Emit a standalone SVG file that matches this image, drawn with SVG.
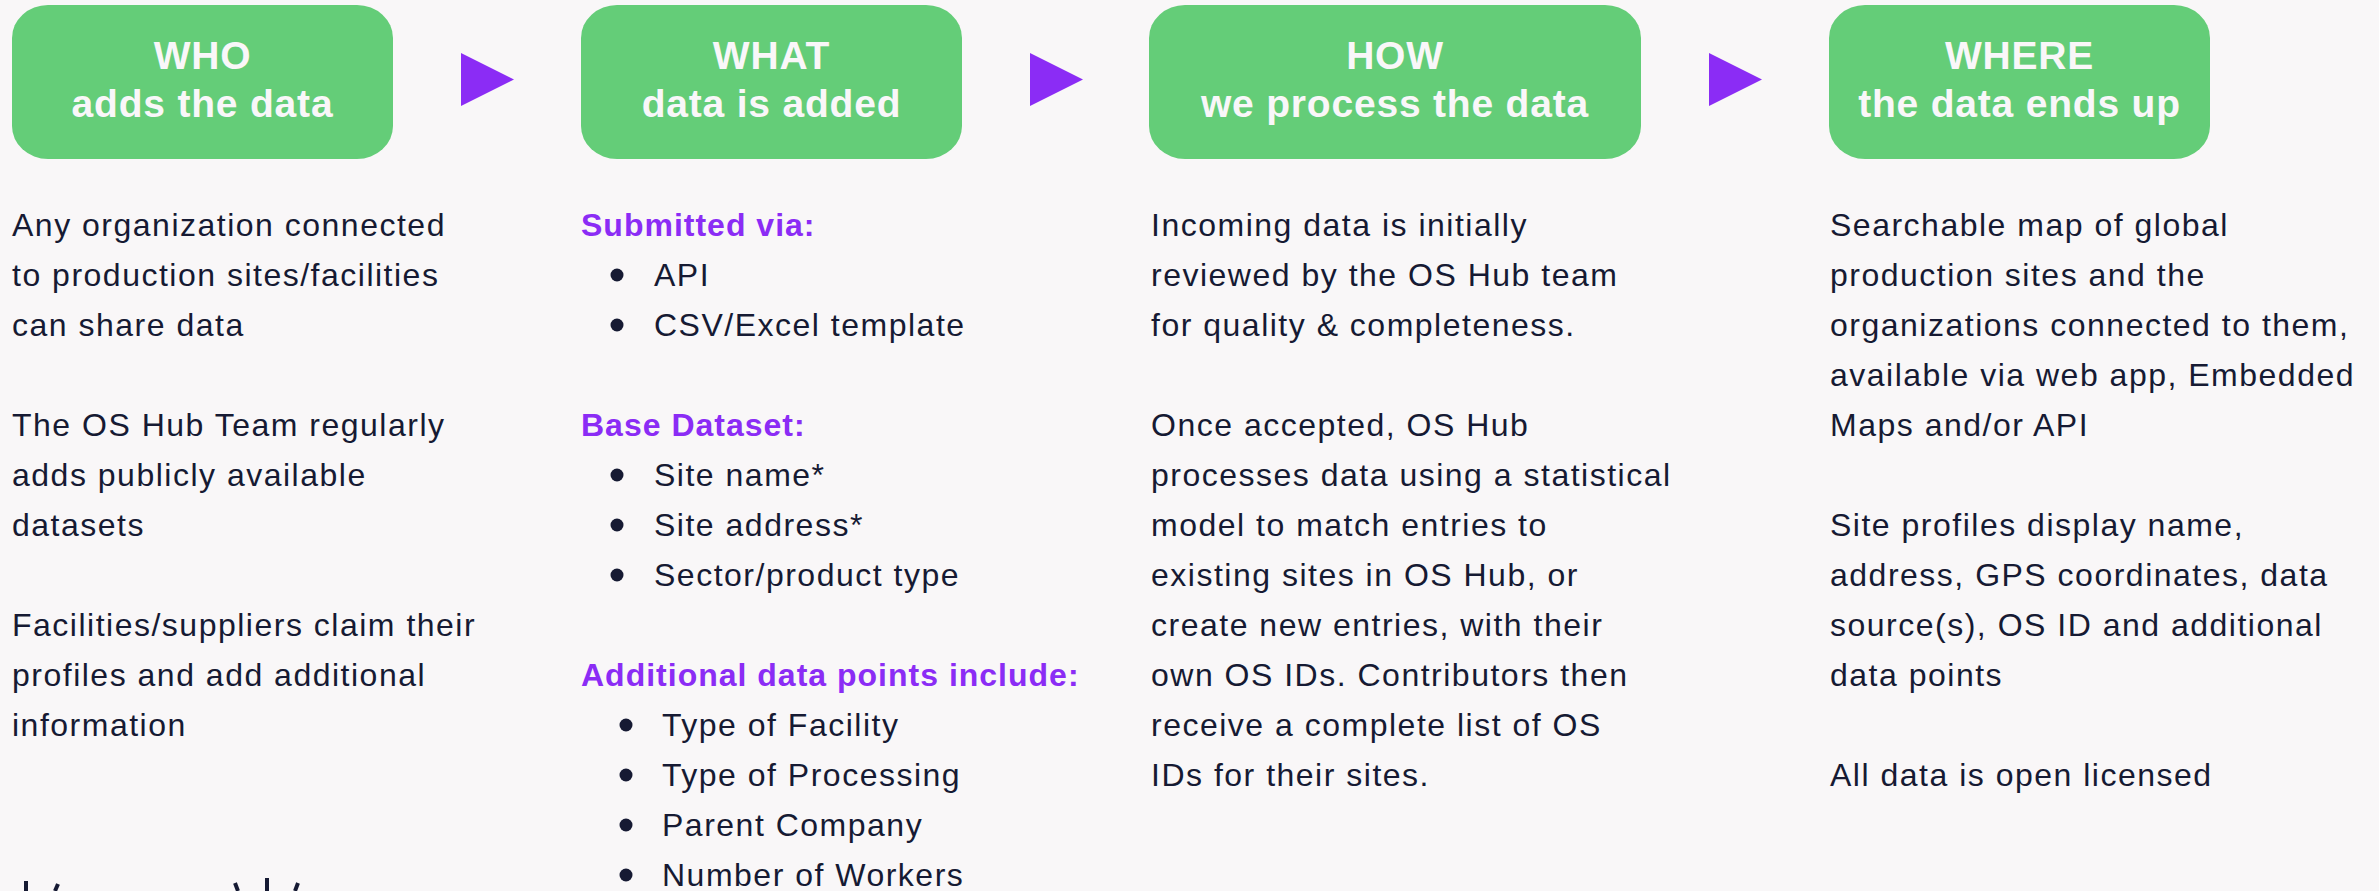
<svg xmlns="http://www.w3.org/2000/svg" width="2379" height="891" viewBox="0 0 2379 891">
<defs>
<style>
.box{fill:#64cd78}
.hd{font-family:"Liberation Sans",Arial,sans-serif;font-weight:700;font-size:39px;fill:#f9f7f9;text-anchor:middle;letter-spacing:0.8px}
.tx{font-family:"Liberation Sans",Arial,sans-serif;font-size:32px;fill:#161a33;letter-spacing:1.5px}
.sub{font-family:"Liberation Sans",Arial,sans-serif;font-weight:700;font-size:32px;fill:#8b2cf5;letter-spacing:1px}
.arr{fill:#8b2cf5}
.dot{fill:#161a33}
.frag{stroke:#161a33;stroke-width:4;fill:none}
</style>
</defs>
<rect width="2379" height="891" fill="#f9f7f8"/>
<g id="connectors">
<polygon class="arr" points="461,53 514,79.5 461,106"/>
<polygon class="arr" points="1030,53 1083,79.5 1030,106"/>
<polygon class="arr" points="1709,53 1762,79.5 1709,106"/>
</g>
<g id="who">
<rect class="box" x="12" y="5" width="381" height="154" rx="36" ry="33"/>
<text class="hd" x="202.5" y="69">WHO</text>
<text class="hd" x="202.5" y="117">adds the data</text>
<text class="tx" x="12" y="236">Any organization connected</text>
<text class="tx" x="12" y="286">to production sites/facilities</text>
<text class="tx" x="12" y="336">can share data</text>
<text class="tx" x="12" y="436">The OS Hub Team regularly</text>
<text class="tx" x="12" y="486">adds publicly available</text>
<text class="tx" x="12" y="536">datasets</text>
<text class="tx" x="12" y="636">Facilities/suppliers claim their</text>
<text class="tx" x="12" y="686">profiles and add additional</text>
<text class="tx" x="12" y="736">information</text>
</g>
<g id="what">
<rect class="box" x="581" y="5" width="381" height="154" rx="36" ry="33"/>
<text class="hd" x="771.5" y="69">WHAT</text>
<text class="hd" x="771.5" y="117">data is added</text>
<text class="sub" x="581" y="236">Submitted via:</text>
<circle class="dot" cx="617" cy="275" r="6.5"/>
<text class="tx" x="654" y="286">API</text>
<circle class="dot" cx="617" cy="325" r="6.5"/>
<text class="tx" x="654" y="336">CSV/Excel template</text>
<text class="sub" x="581" y="436">Base Dataset:</text>
<circle class="dot" cx="617" cy="475" r="6.5"/>
<text class="tx" x="654" y="486">Site name*</text>
<circle class="dot" cx="617" cy="525" r="6.5"/>
<text class="tx" x="654" y="536">Site address*</text>
<circle class="dot" cx="617" cy="575" r="6.5"/>
<text class="tx" x="654" y="586">Sector/product type</text>
<text class="sub" x="581" y="686">Additional data points include:</text>
<circle class="dot" cx="626" cy="725" r="6.5"/>
<text class="tx" x="662" y="736">Type of Facility</text>
<circle class="dot" cx="626" cy="775" r="6.5"/>
<text class="tx" x="662" y="786">Type of Processing</text>
<circle class="dot" cx="626" cy="825" r="6.5"/>
<text class="tx" x="662" y="836">Parent Company</text>
<circle class="dot" cx="626" cy="875" r="6.5"/>
<text class="tx" x="662" y="886">Number of Workers</text>
</g>
<g id="how">
<rect class="box" x="1149" y="5" width="492" height="154" rx="36" ry="33"/>
<text class="hd" x="1395" y="69">HOW</text>
<text class="hd" x="1395" y="117">we process the data</text>
<text class="tx" x="1151" y="236">Incoming data is initially</text>
<text class="tx" x="1151" y="286">reviewed by the OS Hub team</text>
<text class="tx" x="1151" y="336">for quality &amp; completeness.</text>
<text class="tx" x="1151" y="436">Once accepted, OS Hub</text>
<text class="tx" x="1151" y="486">processes data using a statistical</text>
<text class="tx" x="1151" y="536">model to match entries to</text>
<text class="tx" x="1151" y="586">existing sites in OS Hub, or</text>
<text class="tx" x="1151" y="636">create new entries, with their</text>
<text class="tx" x="1151" y="686">own OS IDs. Contributors then</text>
<text class="tx" x="1151" y="736">receive a complete list of OS</text>
<text class="tx" x="1151" y="786">IDs for their sites.</text>
</g>
<g id="where">
<rect class="box" x="1829" y="5" width="381" height="154" rx="36" ry="33"/>
<text class="hd" x="2019.5" y="69">WHERE</text>
<text class="hd" x="2019.5" y="117">the data ends up</text>
<text class="tx" x="1830" y="236">Searchable map of global</text>
<text class="tx" x="1830" y="286">production sites and the</text>
<text class="tx" x="1830" y="336">organizations connected to them,</text>
<text class="tx" x="1830" y="386">available via web app, Embedded</text>
<text class="tx" x="1830" y="436">Maps and/or API</text>
<text class="tx" x="1830" y="536">Site profiles display name,</text>
<text class="tx" x="1830" y="586">address, GPS coordinates, data</text>
<text class="tx" x="1830" y="636">source(s), OS ID and additional</text>
<text class="tx" x="1830" y="686">data points</text>
<text class="tx" x="1830" y="786">All data is open licensed</text>
</g>
<g id="cutoff-shape">
<line class="frag" x1="26" y1="881" x2="26" y2="891"/>
<line class="frag" x1="58" y1="884" x2="55" y2="891"/>
<line class="frag" x1="235" y1="883" x2="238" y2="891"/>
<line class="frag" x1="267" y1="878" x2="267" y2="891"/>
<line class="frag" x1="298" y1="883" x2="295" y2="891"/>
</g>
</svg>
